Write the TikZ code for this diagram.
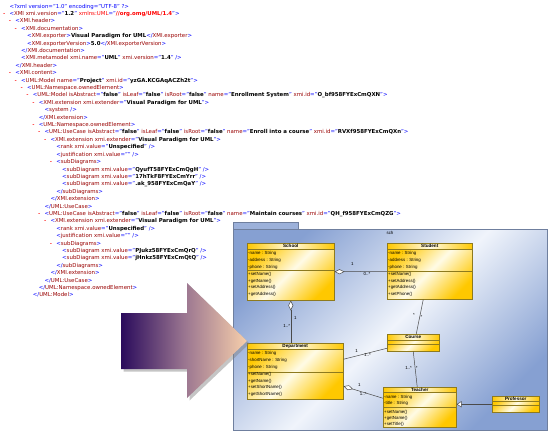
\documentclass[tikz,border=0pt]{standalone}
\usepackage{fontspec}
\setmainfont{DejaVu Sans}
\newfontfamily\umlfont{Liberation Sans}
\newfontfamily\foldfont{Liberation Mono}
\usetikzlibrary{arrows.meta,shadows}

\definecolor{xtag}{HTML}{990000}
\definecolor{xmark}{HTML}{0000FF}
\definecolor{xns}{HTML}{FF0000}
\definecolor{clsgold}{HTML}{FFC800}
\definecolor{clslight}{HTML}{FFFBE6}
\definecolor{clsedge}{HTML}{8E7A1E}
\definecolor{pkgdark}{HTML}{86A0D2}
\definecolor{pkglight}{HTML}{F0F4FB}
\definecolor{pkgtab}{HTML}{9CB1DA}
\definecolor{pkgedge}{HTML}{6F7F9E}
\definecolor{umlline}{HTML}{4A4A4A}
\definecolor{arrL}{HTML}{2A0B5C}
\definecolor{arrM}{HTML}{9A7590}
\definecolor{arrR}{HTML}{F7CFAB}

% xml listing markup
\newcommand{\xmlo}[1]{\textcolor{xmark}{<}\textcolor{xtag}{#1}}
\newcommand{\xmle}{\textcolor{xmark}{>}}
\newcommand{\xmls}{\textcolor{xmark}{/>}}
\newcommand{\xmlc}[1]{\textcolor{xmark}{</}\textcolor{xtag}{#1}\textcolor{xmark}{>}}
\newcommand{\xmla}[2]{\textcolor{xtag}{#1}\textcolor{xmark}{="}\textbf{#2}\textcolor{xmark}{"}}
\newcommand{\xmlnsattr}[2]{\textcolor{xns}{#1}\textcolor{xmark}{="}\textcolor{xns}{\textbf{#2}}\textcolor{xmark}{"}}
\newcommand{\fold}{\makebox[7pt][l]{\foldfont\bfseries\textcolor{xns}{-}}}

\begin{document}
\begin{tikzpicture}[x=1pt,y=-1pt,
  xl/.style={anchor=base west,inner sep=0,font=\fontsize{5.42}{7}\selectfont},
  pkg/.style={draw=pkgedge,line width=0.5pt,left color=pkgdark,right color=pkgdark,middle color=pkglight,shading angle=45},
  cls/.style={draw=clsedge,line width=0.5pt,inner sep=0,anchor=north west,left color=clsgold,right color=clsgold,middle color=clslight,shading angle=45},
  ctitle/.style={left color=clsgold,right color=clsgold,middle color=clslight},
  clsline/.style={draw=clsedge,line width=0.5pt},
  cname/.style={inner sep=0,font=\umlfont\bfseries\fontsize{4.6}{5}\selectfont},
  ctext/.style={anchor=north west,align=left,inner sep=0,font=\umlfont\fontsize{4.4}{6.7}\selectfont},
  lbl/.style={inner sep=0,font=\umlfont\fontsize{4.4}{5}\selectfont},
  assoc/.style={draw=umlline,line width=0.5pt},
  aggr/.style={assoc,{Diamond[fill=white,length=10pt,width=5pt]}-},
  gener/.style={assoc,-{Triangle[fill=white,length=5pt,width=6pt]}}]
\fill[white] (0,0) rectangle (550,434);
\useasboundingbox (0,0) rectangle (550,434);

% xml listing
\node[xl] (x1) at (9.3,8.00) {\textcolor{xmark}{<?xml version="1.0" encoding="UTF-8" ?>}};
\node[xl] (x2) at (2.3,15.41) {\fold\xmlo{XMI} \xmla{xmi.version}{1.2} \xmlnsattr{xmlns:UML}{//org.omg/UML/1.4}\xmle};
\node[xl] (x3) at (8.2,22.82) {\fold\xmlo{XMI.header}\xmle};
\node[xl] (x4) at (14.0,30.23) {\fold\xmlo{XMI.documentation}\xmle};
\node[xl] (x5) at (26.9,37.64) {\xmlo{XMI.exporter}\xmle\textbf{Visual Paradigm for UML}\xmlc{XMI.exporter}};
\node[xl] (x6) at (26.9,45.05) {\xmlo{XMI.exporterVersion}\xmle\textbf{5.0}\xmlc{XMI.exporterVersion}};
\node[xl] (x7) at (21.0,52.46) {\xmlc{XMI.documentation}};
\node[xl] (x8) at (21.0,59.87) {\xmlo{XMI.metamodel} \xmla{xmi.name}{UML} \xmla{xmi.version}{1.4} \xmls};
\node[xl] (x9) at (15.2,67.28) {\xmlc{XMI.header}};
\node[xl] (x10) at (8.2,74.69) {\fold\xmlo{XMI.content}\xmle};
\node[xl] (x11) at (14.0,82.10) {\fold\xmlo{UML:Model} \xmla{name}{Project} \xmla{xmi.id}{yzGA.KCGAqACZh2t}\xmle};
\node[xl] (x12) at (19.9,89.51) {\fold\xmlo{UML:Namespace.ownedElement}\xmle};
\node[xl] (x13) at (25.7,96.92) {\fold\xmlo{UML:Model} \xmla{isAbstract}{false} \xmla{isLeaf}{false} \xmla{isRoot}{false} \xmla{name}{Enrollment System} \xmla{xmi.id}{O\_bf958FYExCmQXN}\xmle};
\node[xl] (x14) at (31.6,104.33) {\fold\xmlo{XMI.extension} \xmla{xmi.extender}{Visual Paradigm for UML}\xmle};
\node[xl] (x15) at (44.4,111.74) {\xmlo{system} \xmls};
\node[xl] (x16) at (38.6,119.15) {\xmlc{XMI.extension}};
\node[xl] (x17) at (31.6,126.56) {\fold\xmlo{UML:Namespace.ownedElement}\xmle};
\node[xl] (x18) at (37.4,133.97) {\fold\xmlo{UML:UseCase} \xmla{isAbstract}{false} \xmla{isLeaf}{false} \xmla{isRoot}{false} \xmla{name}{Enroll into a course} \xmla{xmi.id}{RVXf958FYExCmQXn}\xmle};
\node[xl] (x19) at (43.3,141.38) {\fold\xmlo{XMI.extension} \xmla{xmi.extender}{Visual Paradigm for UML}\xmle};
\node[xl] (x20) at (56.1,148.79) {\xmlo{rank} \xmla{xmi.value}{Unspecified} \xmls};
\node[xl] (x21) at (56.1,156.20) {\xmlo{justification} \xmla{xmi.value}{} \xmls};
\node[xl] (x22) at (49.1,163.61) {\fold\xmlo{subDiagrams}\xmle};
\node[xl] (x23) at (62.0,171.02) {\xmlo{subDiagram} \xmla{xmi.value}{QyufT58FYExCmQgH} \xmls};
\node[xl] (x24) at (62.0,178.43) {\xmlo{subDiagram} \xmla{xmi.value}{17hTkF8FYExCmYrr} \xmls};
\node[xl] (x25) at (62.0,185.84) {\xmlo{subDiagram} \xmla{xmi.value}{.ak\_958FYExCmQaY} \xmls};
\node[xl] (x26) at (56.1,193.25) {\xmlc{subDiagrams}};
\node[xl] (x27) at (50.3,200.66) {\xmlc{XMI.extension}};
\node[xl] (x28) at (44.4,208.07) {\xmlc{UML:UseCase}};
\node[xl] (x29) at (37.4,215.48) {\fold\xmlo{UML:UseCase} \xmla{isAbstract}{false} \xmla{isLeaf}{false} \xmla{isRoot}{false} \xmla{name}{Maintain courses} \xmla{xmi.id}{QH\_f958FYExCmQZG}\xmle};
\node[xl] (x30) at (43.3,222.89) {\fold\xmlo{XMI.extension} \xmla{xmi.extender}{Visual Paradigm for UML}\xmle};
\node[xl] (x31) at (56.1,230.30) {\xmlo{rank} \xmla{xmi.value}{Unspecified} \xmls};
\node[xl] (x32) at (56.1,237.71) {\xmlo{justification} \xmla{xmi.value}{} \xmls};
\node[xl] (x33) at (49.1,245.12) {\fold\xmlo{subDiagrams}\xmle};
\node[xl] (x34) at (62.0,252.53) {\xmlo{subDiagram} \xmla{xmi.value}{PJukz58FYExCmQrQ} \xmls};
\node[xl] (x35) at (62.0,259.94) {\xmlo{subDiagram} \xmla{xmi.value}{jHnkz58FYExCmQtQ} \xmls};
\node[xl] (x36) at (56.1,267.35) {\xmlc{subDiagrams}};
\node[xl] (x37) at (50.3,274.76) {\xmlc{XMI.extension}};
\node[xl] (x38) at (44.4,282.17) {\xmlc{UML:UseCase}};
\node[xl] (x39) at (38.6,289.58) {\xmlc{UML:Namespace.ownedElement}};
\node[xl] (x40) at (32.7,296.99) {\xmlc{UML:Model}};

% package frame
\shade[pkg] (233,229) rectangle (547,430);
\filldraw[fill=pkgtab,draw=pkgedge,line width=0.5pt] (233,222) rectangle (298,229);
\node[lbl] (sch) at (390,233) {sch};

% classes
\node[cls,minimum width=87pt,minimum height=57pt] (school) at (247,243) {};
\shade[ctitle] (school.north west) rectangle ([yshift=-6pt]school.north east);
\draw[clsline] (school.north west) rectangle (school.south east);
\draw[clsline] ([yshift=-6pt]school.north west) -- ([yshift=-6pt]school.north east);
\draw[clsline] ([yshift=-27pt]school.north west) -- ([yshift=-27pt]school.north east);
\node[cname] (school-t) at ([yshift=-3pt]school.north) {School};
\node[ctext] (school-a) at ([xshift=1pt,yshift=-8.4pt]school.north west) {-name : String\\-address : String\\-phone : String};
\node[ctext] (school-m) at ([xshift=1pt,yshift=-29.2pt]school.north west) {+setName()\\+getName()\\+setAddress()\\+getAddress()};

\node[cls,minimum width=85pt,minimum height=56pt] (student) at (387,243) {};
\shade[ctitle] (student.north west) rectangle ([yshift=-6pt]student.north east);
\draw[clsline] (student.north west) rectangle (student.south east);
\draw[clsline] ([yshift=-6pt]student.north west) -- ([yshift=-6pt]student.north east);
\draw[clsline] ([yshift=-28pt]student.north west) -- ([yshift=-28pt]student.north east);
\node[cname] (student-t) at ([yshift=-3pt]student.north) {Student};
\node[ctext] (student-a) at ([xshift=1pt,yshift=-8.4pt]student.north west) {-name : String\\-address : String\\-phone : String};
\node[ctext] (student-m) at ([xshift=1pt,yshift=-29.2pt]student.north west) {+setName()\\+setAddress()\\+getAddress()\\+setPhone()};

\node[cls,minimum width=52pt,minimum height=17pt] (course) at (387,334) {};
\shade[ctitle] (course.north west) rectangle ([yshift=-6pt]course.north east);
\draw[clsline] (course.north west) rectangle (course.south east);
\draw[clsline] ([yshift=-6pt]course.north west) -- ([yshift=-6pt]course.north east);
\draw[clsline] ([yshift=-10pt]course.north west) -- ([yshift=-10pt]course.north east);
\node[cname] (course-t) at ([yshift=-3pt]course.north) {Course};

\node[cls,minimum width=96pt,minimum height=56pt] (dept) at (247,343) {};
\shade[ctitle] (dept.north west) rectangle ([yshift=-6pt]dept.north east);
\draw[clsline] (dept.north west) rectangle (dept.south east);
\draw[clsline] ([yshift=-6pt]dept.north west) -- ([yshift=-6pt]dept.north east);
\draw[clsline] ([yshift=-29pt]dept.north west) -- ([yshift=-29pt]dept.north east);
\node[cname] (dept-t) at ([yshift=-3pt]dept.north) {Department};
\node[ctext] (dept-a) at ([xshift=1pt,yshift=-8.4pt]dept.north west) {-name : String\\-shortName : String\\-phone : String};
\node[ctext] (dept-m) at ([xshift=1pt,yshift=-29.2pt]dept.north west) {+setName()\\+getName()\\+setShortName()\\+getShortName()};

\node[cls,minimum width=73pt,minimum height=40pt] (teacher) at (383,387) {};
\shade[ctitle] (teacher.north west) rectangle ([yshift=-5.5pt]teacher.north east);
\draw[clsline] (teacher.north west) rectangle (teacher.south east);
\draw[clsline] ([yshift=-5.5pt]teacher.north west) -- ([yshift=-5.5pt]teacher.north east);
\draw[clsline] ([yshift=-20pt]teacher.north west) -- ([yshift=-20pt]teacher.north east);
\node[cname] (teacher-t) at ([yshift=-2.8pt]teacher.north) {Teacher};
\node[ctext,font=\umlfont\fontsize{4.4}{6}\selectfont] (teacher-a) at ([xshift=1pt,yshift=-8.4pt]teacher.north west) {-name : String\\-title : String};
\node[ctext,font=\umlfont\fontsize{4.4}{6}\selectfont] (teacher-m) at ([xshift=1pt,yshift=-23.2pt]teacher.north west) {+setName()\\+getName()\\+setTitle()};

\node[cls,minimum width=47pt,minimum height=16pt] (prof) at (492,396) {};
\shade[ctitle] (prof.north west) rectangle ([yshift=-5pt]prof.north east);
\draw[clsline] (prof.north west) rectangle (prof.south east);
\draw[clsline] ([yshift=-5pt]prof.north west) -- ([yshift=-5pt]prof.north east);
\draw[clsline] ([yshift=-9pt]prof.north west) -- ([yshift=-9pt]prof.north east);
\node[cname] (prof-t) at ([yshift=-2.6pt]prof.north) {Professor};

% relations
\draw[aggr] (school.east) -- (student.west) node[lbl,pos=0.34,above=5.5pt] (ss1) {1} node[lbl,pos=0.62,below=0.3pt] (ss2) {0..*};
\draw[aggr] (school.south) -- (school.south |- dept.north) node[lbl,pos=0.4,right=3pt] (sd1) {1} node[lbl,pos=0.6,left=0.5pt] (sd2) {1..*};
\draw[assoc] ([xshift=-6.5pt]student.south) -- ([xshift=3pt]course.north) node[lbl,pos=0.45,left=5pt] (sc1) {*} node[lbl,pos=0.5,right=0.5pt] (sc2) {*};
\draw[assoc] ([yshift=12pt]dept.east) -- ([yshift=-5.5pt]course.west) node[lbl,pos=0.3,above=3.5pt] (dc1) {1} node[lbl,pos=0.55,below=0pt] (dc2) {1..*};
\draw[aggr] ([yshift=-15pt]dept.east) -- ([yshift=9pt]teacher.west) node[lbl,pos=0.4,above=4pt] (dt1) {1} node[lbl,pos=0.5,below=0pt] (dt2) {1..*};
\draw[assoc] (course.south) -- ([xshift=-2.5pt]teacher.north) node[lbl,pos=0.47,left=3pt] (ct1) {1..*} node[lbl,pos=0.47,right=0.5pt] (ct2) {*};
\draw[gener] (prof.west) -- (prof.west -| teacher.east);

% big arrow
\shade[left color=arrL,right color=arrR,middle color=arrM,drop shadow={shadow xshift=2.5pt,shadow yshift=-2.5pt,opacity=0.45}]
  (121,313) -- (187,313) -- (187,283) -- (247,341) -- (187,398) -- (187,369) -- (121,369) -- cycle;
\end{tikzpicture}
\end{document}
